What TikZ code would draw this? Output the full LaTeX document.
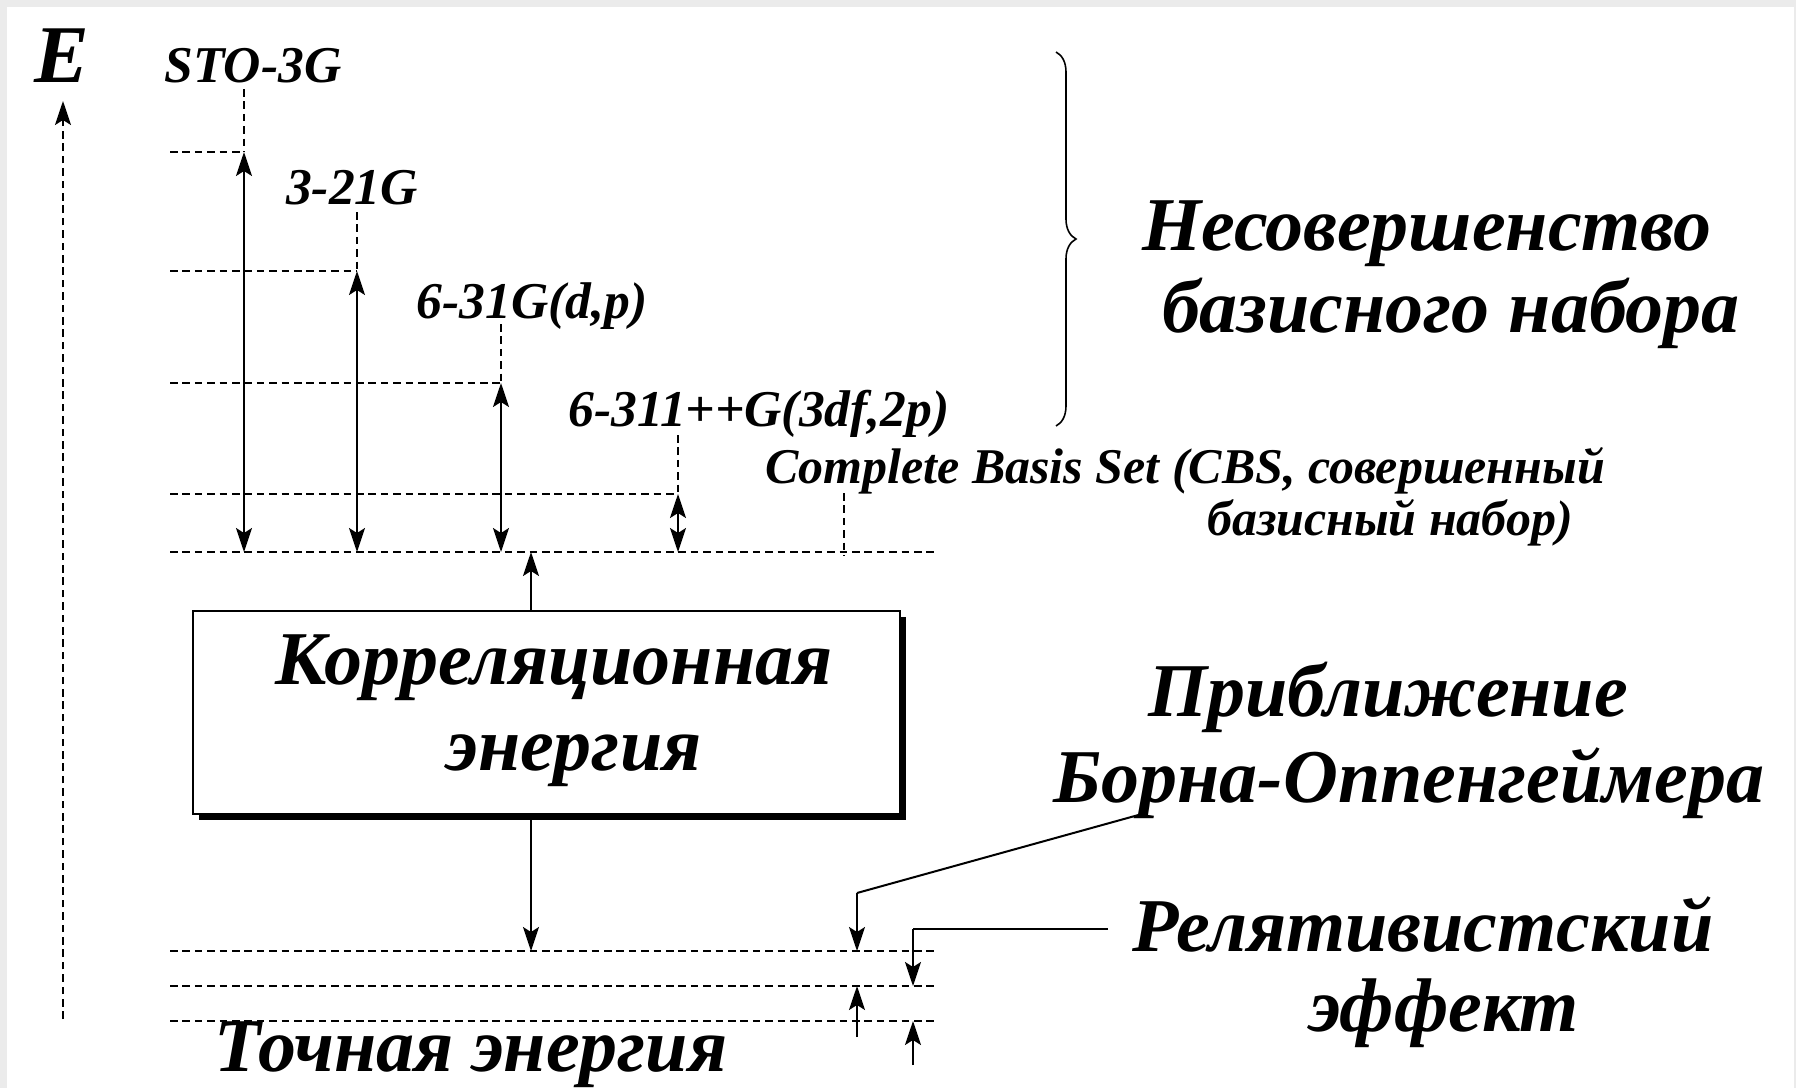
\documentclass[tikz,border=0pt]{standalone}
\usepackage{fontspec}
\setmainfont{Liberation Serif}
\usetikzlibrary{arrows.meta,decorations.pathreplacing}

\tikzset{
  tip/.tip={Stealth[length=12pt,width=8pt,inset=2.5pt]},
  lvl/.style={line width=1pt, dash pattern=on 3.8pt off 2.4pt},
  gap/.style={line width=1pt, {tip}-{tip}},
  toarr/.style={line width=1pt, -{tip}},
  plain/.style={line width=1pt},
  small/.style={font=\bfseries\itshape\fontsize{25.8}{29}\selectfont, inner sep=0pt, anchor=base},
  note/.style={font=\bfseries\itshape\fontsize{25}{28}\selectfont, inner sep=0pt, anchor=base},
  big/.style={font=\bfseries\itshape\fontsize{38}{42}\selectfont, inner sep=0pt, anchor=base},
}

\begin{document}
\begin{tikzpicture}[x=0.5pt,y=-0.5pt]
% canvas
\fill[black!8] (0,0) rectangle (1796,1088);
\fill[white] (7,7) rectangle (1794,1088);
\useasboundingbox (0,0) rectangle (1796,1088);

% energy axis
\node[big, font=\bfseries\itshape\fontsize{41}{45}\selectfont] (E) at (62,82) {E};
\coordinate (axB) at (63,1019);
\coordinate (axT) at (63,101);
\draw[lvl, -{tip}] (axB) -- (axT);

% basis-set labels
\node[small] (sto) at (253,82) {STO-3G};
\node[small] (b321) at (352,204) {3-21G};
\node[small] (b631) at (532,318) {6-31G(d,p)};
\node[small] (b6311) at (759,426) {6-311++G(3df,2p)};
\node[note] (cbs1) at (1185,483) {Complete Basis Set (CBS, совершенный};
\node[note] (cbs2) at (1390,535) {базисный набор)};

% energy levels
\coordinate (l1a) at (170,152);  \coordinate (l1b) at (244,152);
\coordinate (l2a) at (170,271);  \coordinate (l2b) at (357,271);
\coordinate (l3a) at (170,383);  \coordinate (l3b) at (501,383);
\coordinate (l4a) at (170,494);  \coordinate (l4b) at (678,494);
\coordinate (l5a) at (170,552);  \coordinate (l5b) at (934,552);
\draw[lvl] (l1a) -- (l1b);
\draw[lvl] (l2a) -- (l2b);
\draw[lvl] (l3a) -- (l3b);
\draw[lvl] (l4a) -- (l4b);
\draw[lvl] (l5a) -- (l5b);

% drop lines from the labels
\coordinate (d1) at (244,89);
\coordinate (d2) at (357,212);
\coordinate (d3) at (501,324);
\coordinate (d4) at (678,435);
\coordinate (d5a) at (844,493); \coordinate (d5b) at (844,556);
\draw[lvl] (d1) -- (l1b);
\draw[lvl] (d2) -- (l2b);
\draw[lvl] (d3) -- (l3b);
\draw[lvl] (d4) -- (l4b);
\draw[lvl] (d5a) -- (d5b);

% basis-set errors
\coordinate (h1) at (244,552);
\coordinate (h2) at (357,552);
\coordinate (h3) at (501,552);
\coordinate (h4) at (678,552);
\draw[gap] (l1b) -- (h1);
\draw[gap] (l2b) -- (h2);
\draw[gap] (l3b) -- (h3);
\draw[gap] (l4b) -- (h4);

% correlation energy box
\fill[black] (199,617) rectangle (906,820);
\node[draw, line width=1pt, fill=white, minimum width=707*0.5pt, minimum height=203*0.5pt,
      inner sep=0pt, anchor=north west] (corr) at (192,610) {};
\node[big] (corrT1) at (554,684) {Корреляционная};
\node[big] (corrT2) at (574,770) {энергия};
\coordinate (cUp) at (531,552);
\coordinate (cDn) at (531,951);
\draw[toarr] (corr.north -| cUp) -- (cUp);
\draw[toarr] (corr.south -| cDn) -- (cDn);

% lower levels
\coordinate (m1a) at (170,951);  \coordinate (m1b) at (934,951);
\coordinate (m2a) at (170,986);  \coordinate (m2b) at (934,986);
\coordinate (m3a) at (170,1021); \coordinate (m3b) at (934,1021);
\draw[lvl] (m1a) -- (m1b);
\draw[lvl] (m2a) -- (m2b);
\draw[lvl] (m3a) -- (m3b);
\node[big] (exact) at (471,1071) {Точная энергия};

% basis-set incompleteness
\coordinate (brT) at (1056,52);
\coordinate (brB) at (1056,426);
\draw[line width=0.8pt, decorate, decoration={brace, amplitude=10pt, aspect=0.5}] (brT) -- (brB);
\node[big] (inc1) at (1427,250) {Несовершенство};
\node[big] (inc2) at (1451,332) {базисного набора};

% Born--Oppenheimer
\node[big] (bo1) at (1388,716) {Приближение};
\node[big] (bo2) at (1409,802) {Борна-Оппенгеймера};
\coordinate (boL) at (1142,814);
\coordinate (boK) at (857,893);
\coordinate (boT) at (857,951);
\coordinate (boF) at (857,1037);
\coordinate (boU) at (857,986);
\draw[plain] (boL) -- (boK);
\draw[toarr] (boK) -- (boT);
\draw[toarr] (boF) -- (boU);

% relativistic effect
\node[big] (rel1) at (1423,951) {Релятивистский};
\node[big] (rel2) at (1444,1031) {эффект};
\coordinate (reL) at (1108,929);
\coordinate (reK) at (913,929);
\coordinate (reT) at (913,986);
\coordinate (reF) at (913,1065);
\coordinate (reU) at (913,1021);
\draw[plain] (reL) -- (reK);
\draw[toarr] (reK) -- (reT);
\draw[toarr] (reF) -- (reU);
\end{tikzpicture}
\end{document}
